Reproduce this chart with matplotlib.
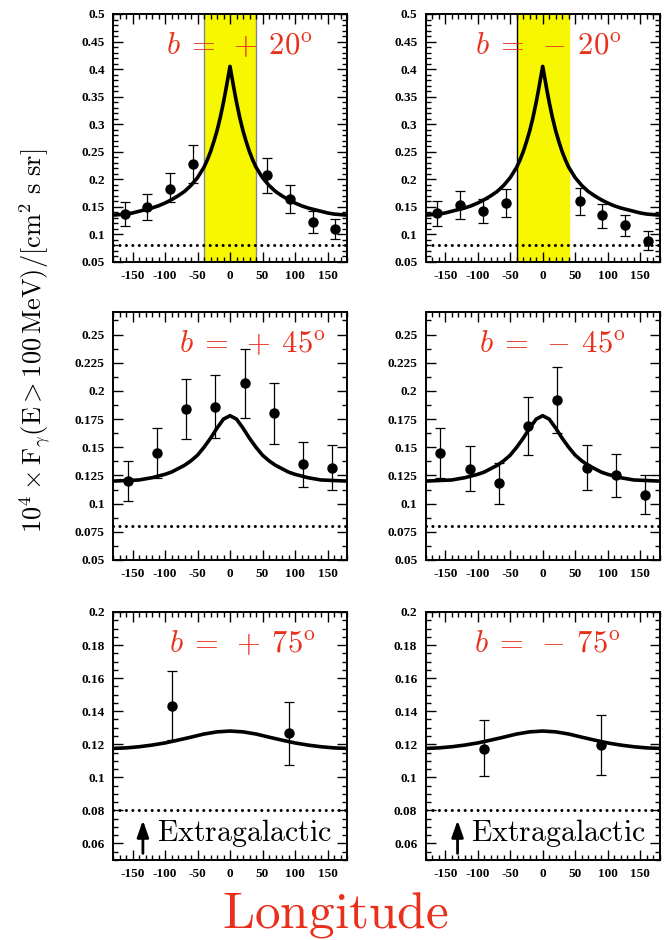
import numpy as np
import matplotlib
matplotlib.use("Agg")
import matplotlib.pyplot as plt
from matplotlib.ticker import MultipleLocator

plt.rcParams["mathtext.fontset"] = "cm"
plt.rcParams["axes.unicode_minus"] = False

RED = "#e8301c"

# --- data ---
lon_20 = [-162, -127, -92, -57, 57, 92, 127, 162]
flux_p20 = [0.138, 0.150, 0.183, 0.227, 0.207, 0.164, 0.123, 0.110]
lo_p20 = [0.115, 0.126, 0.159, 0.194, 0.175, 0.139, 0.103, 0.092]
hi_p20 = [0.158, 0.174, 0.212, 0.262, 0.239, 0.190, 0.143, 0.128]
flux_m20 = [0.139, 0.154, 0.143, 0.157, 0.160, 0.135, 0.117, 0.088]
lo_m20 = [0.115, 0.128, 0.121, 0.132, 0.136, 0.112, 0.097, 0.071]
hi_m20 = [0.161, 0.179, 0.164, 0.182, 0.185, 0.156, 0.135, 0.106]

lon_45 = [-157.5, -112.5, -67.5, -22.5, 22.5, 67.5, 112.5, 157.5]
flux_p45 = [0.120, 0.145, 0.184, 0.186, 0.207, 0.180, 0.135, 0.132]
lo_p45 = [0.102, 0.123, 0.157, 0.158, 0.176, 0.153, 0.115, 0.112]
hi_p45 = [0.138, 0.167, 0.211, 0.214, 0.237, 0.207, 0.155, 0.152]
flux_m45 = [0.145, 0.131, 0.118, 0.169, 0.192, 0.132, 0.125, 0.108]
lo_m45 = [0.123, 0.111, 0.100, 0.143, 0.163, 0.112, 0.106, 0.091]
hi_m45 = [0.167, 0.151, 0.136, 0.195, 0.221, 0.152, 0.144, 0.125]

lon_75 = [-90, 90]
flux_p75 = [0.143, 0.1266]
lo_p75 = [0.1226, 0.1076]
hi_p75 = [0.1646, 0.1454]
flux_m75 = [0.1174, 0.1196]
lo_m75 = [0.1006, 0.1016]
hi_m75 = [0.1344, 0.1374]

# model curves, l >= 0 half (symmetric in l)
curve_lon_20 = [0, 3, 6, 10, 15, 20, 25, 30, 35, 40, 50, 60, 70, 80, 90,
                100, 110, 120, 130, 140, 150, 160, 170, 180]
curve_20 = [0.405, 0.385, 0.365, 0.340, 0.312, 0.288, 0.268, 0.250, 0.235,
            0.222, 0.203, 0.189, 0.178, 0.170, 0.163, 0.157, 0.152, 0.148,
            0.145, 0.142, 0.139, 0.137, 0.136, 0.135]
curve_lon_45 = [0, 10, 20, 30, 40, 50, 60, 70, 80, 90, 100, 120, 140, 160, 180]
curve_45 = [0.178, 0.175, 0.167, 0.158, 0.150, 0.143, 0.138, 0.134, 0.131,
            0.128, 0.126, 0.123, 0.121, 0.1205, 0.120]
curve_lon_75 = [0, 20, 40, 60, 80, 100, 120, 140, 160, 180]
curve_75 = [0.128, 0.1275, 0.1262, 0.1243, 0.1225, 0.1208, 0.1195, 0.1185,
            0.1178, 0.1175]

extragalactic = 0.08
band = (-40, 40)


def mirror(lon, val):
    lon = np.asarray(lon, float)
    val = np.asarray(val, float)
    return (np.concatenate([-lon[::-1], lon[1:]]),
            np.concatenate([val[::-1], val[1:]]))


panels = [
    # title, lon, flux, lo, hi, curve lon, curve, ylim, major, minor, title x
    (r"$b\;=\;+\:20^{\rm o}$", lon_20, flux_p20, lo_p20, hi_p20, curve_lon_20, curve_20, (0.05, 0.5), 0.05, 0.01, 0.54),
    (r"$b\;=\;-\:20^{\rm o}$", lon_20, flux_m20, lo_m20, hi_m20, curve_lon_20, curve_20, (0.05, 0.5), 0.05, 0.01, 0.525),
    (r"$b\;=\;+\:45^{\rm o}$", lon_45, flux_p45, lo_p45, hi_p45, curve_lon_45, curve_45, (0.05, 0.27), 0.025, 0.0125, 0.597),
    (r"$b\;=\;-\:45^{\rm o}$", lon_45, flux_m45, lo_m45, hi_m45, curve_lon_45, curve_45, (0.05, 0.27), 0.025, 0.0125, 0.542),
    (r"$b\;=\;+\:75^{\rm o}$", lon_75, flux_p75, lo_p75, hi_p75, curve_lon_75, curve_75, (0.05, 0.2), 0.02, 0.005, 0.553),
    (r"$b\;=\;-\:75^{\rm o}$", lon_75, flux_m75, lo_m75, hi_m75, curve_lon_75, curve_75, (0.05, 0.2), 0.02, 0.005, 0.521),
]

fig = plt.figure(figsize=(6.7, 9.4), dpi=100)
lefts = [113 / 670, 425.7 / 670]
bottoms = [1 - 262 / 940, 1 - 560 / 940, 1 - 860 / 940]
w, h = 234 / 670, 248 / 940

tick_font = {"family": "Liberation Serif", "weight": "bold", "size": 9.5}

for i, (title, lon, flux, lo, hi, clon, cval, ylim, major, minor, tx) in enumerate(panels):
    row, col = divmod(i, 2)
    ax = fig.add_axes([lefts[col], bottoms[row], w, h])

    if row == 0:
        ax.axvspan(*band, facecolor="#f7f700", edgecolor="none", zorder=0)
        edge = "#888888" if col == 0 else "black"
        ax.axvline(band[0], color=edge, lw=1, zorder=0.5)
        ax.axvline(band[1], color="#888888" if col == 0 else "#f7f700", lw=1, zorder=0.5)

    ax.axhline(extragalactic, color="black", lw=2.2, ls=(0, (0.01, 2.1)),
               dash_capstyle="round", zorder=2)

    cx, cy = mirror(clon, cval)
    ax.plot(cx, cy, color="black", lw=2.6, zorder=3)

    flux = np.asarray(flux)
    yerr = [flux - np.asarray(lo), np.asarray(hi) - flux]
    ax.errorbar(lon, flux, yerr=yerr, fmt="o", color="black", ms=6.5,
                ecolor="black", elinewidth=0.9, capsize=3.5, capthick=0.9, zorder=4)

    ax.text(tx, 0.84, title, transform=ax.transAxes, color=RED, fontsize=22,
            ha="center", va="baseline")

    if row == 2:
        arr_x = -134 if col == 0 else -131
        ax.annotate("", xy=(arr_x, 0.074), xytext=(arr_x, 0.054),
                    arrowprops=dict(arrowstyle="-|>,head_length=1.0,head_width=0.35",
                                    lw=2, color="black", shrinkA=0, shrinkB=0))
        ax.text(arr_x + 21, 0.0665, r"$\rm Extragalactic$", fontsize=21.5,
                ha="left", va="center")

    ax.set_xlim(-180, 180)
    ax.set_ylim(*ylim)
    ax.xaxis.set_minor_locator(MultipleLocator(10))
    ax.yaxis.set_major_locator(MultipleLocator(major))
    ax.yaxis.set_minor_locator(MultipleLocator(minor))
    ax.tick_params(which="both", direction="in", top=True, right=True, width=1)
    ax.tick_params(which="major", length=7, pad=6)
    ax.tick_params(which="minor", length=3.5)
    for s in ax.spines.values():
        s.set_linewidth(1.4)
    ax.set_xticks(np.arange(-150, 151, 50))
    ax.set_xticklabels([str(v) for v in np.arange(-150, 151, 50)], fontdict=tick_font)
    yt = ax.get_yticks()
    yt = yt[(yt >= ylim[0] - 1e-9) & (yt <= ylim[1] + 1e-9)]
    ax.set_yticks(yt)
    ax.set_yticklabels([("%g" % round(v, 4)) for v in yt], fontdict=tick_font)
    ax.set_ylim(*ylim)

fig.text(0.052, 1 - 341 / 940,
         r"$10^4\times{\rm F}_\gamma({\rm E}>100\,{\rm MeV})/[{\rm cm}^2\ {\rm s}\ {\rm sr}]$",
         rotation=90, fontsize=19, ha="center", va="center")
fig.text(0.5, 1 - 927 / 940, r"$\rm Longitude$", color=RED, fontsize=37,
         ha="center", va="baseline")

fig.savefig("out.png", dpi=100)
